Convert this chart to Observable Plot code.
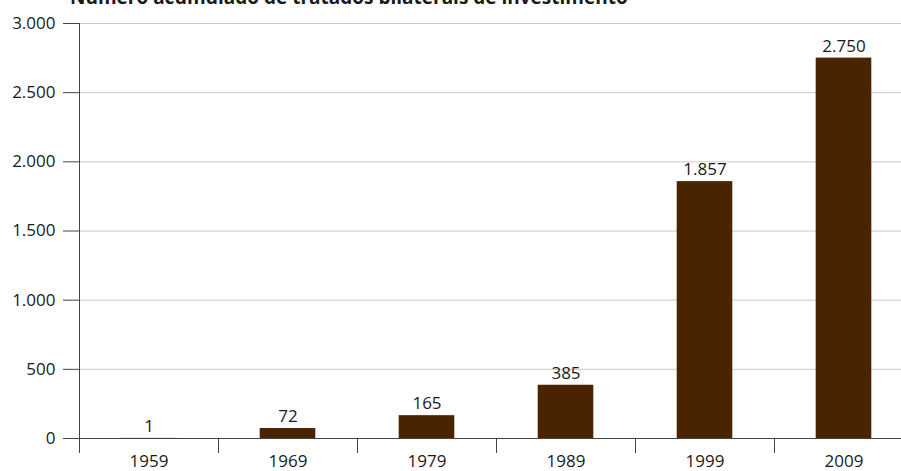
<!DOCTYPE html>
<html>
<head>
<meta charset="utf-8">
<script src="https://cdn.jsdelivr.net/npm/d3@7"></script>
<script src="https://cdn.jsdelivr.net/npm/@observablehq/plot@0.6"></script>
<style>
  html, body { margin: 0; padding: 0; background: #fff; overflow: hidden; }
  #wrap { position: relative; width: 901px; height: 471px; overflow: hidden; }
  #title { position: absolute; left: 70px; top: -12px; font: bold 19px "Open Sans", sans-serif; line-height: 19px; color: #1a1a1a; white-space: nowrap; }
</style>
</head>
<body>
<div id="wrap">
  <div id="title">Número acumulado de tratados bilaterais de investimento</div>
  <div id="chart"></div>
</div>
<script>
const years = ["1959", "1969", "1979", "1989", "1999", "2009"];
const values = [1, 72, 165, 385, 1857, 2750];
const yTicks = [0, 500, 1000, 1500, 2000, 2500, 3000];

const data = years.map((y, i) => ({year: y, i, value: values[i]}));
const fmt = v => d3.format(",")(v).replace(/,/g, ".");
const pad = 0.3;

const chart = Plot.plot({
  width: 901,
  height: 471,
  marginLeft: 79,
  marginRight: -12,
  marginTop: 23,
  marginBottom: 33,
  style: {fontFamily: "'Open Sans', sans-serif", fontSize: "17px", color: "#1a1a1a", background: "#fff"},
  x: {type: "linear", domain: [0, 6], axis: null},
  y: {domain: [0, 3000], axis: null, label: null},
  marks: [
    Plot.gridY(yTicks, {stroke: "#c8c8c8", strokeOpacity: 1}),
    Plot.rectY(data, {x1: d => d.i + pad, x2: d => d.i + 1 - pad, y: "value", fill: "#4a2300"}),
    Plot.text(data, {x: d => d.i + 0.5, y: "value", text: d => fmt(d.value), dy: -12, fill: "#1a1a1a", fontSize: 17}),
    Plot.axisY(yTicks, {anchor: "left", label: null, tickSize: 16, tickPadding: 8, tickFormat: fmt, stroke: "#444", fill: "#1a1a1a", fontSize: 17}),
    Plot.ruleX([0], {y1: 0, y2: 3000, stroke: "#444"}),
    Plot.ruleY([0], {stroke: "#444"}),
    Plot.axisX(d3.range(7), {anchor: "bottom", label: null, tickSize: 15, tickFormat: () => "", stroke: "#444"}),
    Plot.axisX(d3.range(6).map(i => i + 0.5), {anchor: "bottom", label: null, tickSize: 0, tickPadding: 16, tickFormat: v => years[Math.floor(v)], fill: "#1a1a1a", fontSize: 17})
  ]
});
document.getElementById("chart").appendChild(chart);
</script>
</body>
</html>
